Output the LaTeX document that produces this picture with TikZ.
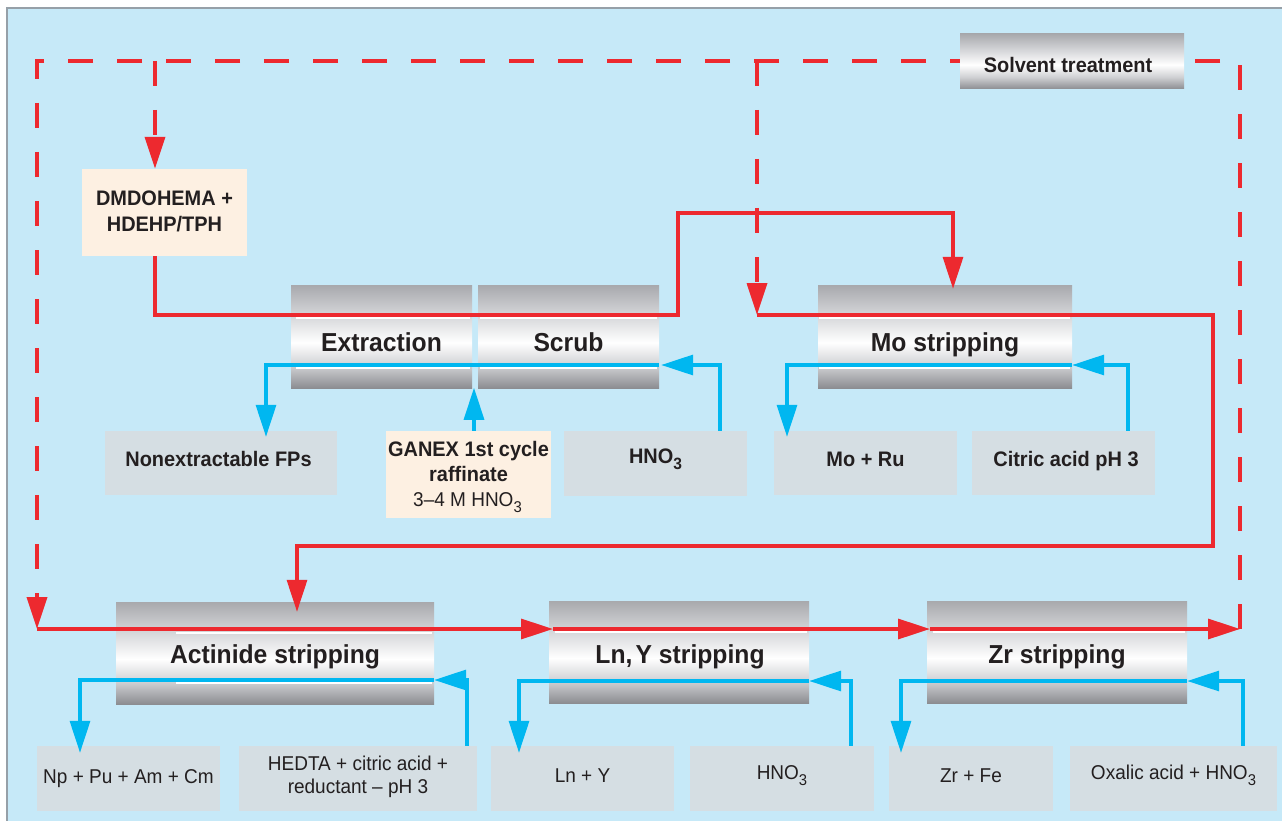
\documentclass[tikz,border=0pt]{standalone}
\usepackage{fontspec}
\setmainfont{Liberation Sans}[FakeStretch=0.95]
\usetikzlibrary{arrows.meta}
\definecolor{bgblue}{RGB}{198,233,248}
\definecolor{framegray}{RGB}{150,160,168}
\definecolor{feedgray}{RGB}{213,222,227}
\definecolor{cream}{RGB}{253,240,226}
\definecolor{flowred}{RGB}{237,41,47}
\definecolor{flowblue}{RGB}{0,183,240}
\definecolor{txt}{RGB}{35,31,32}
\definecolor{gT}{RGB}{168,169,173}
\definecolor{gLa}{RGB}{214,215,218}
\definecolor{gLb}{RGB}{208,209,212}
\definecolor{gB}{RGB}{140,141,145}
\pgfdeclareverticalshading{stageshade}{100bp}{color(0bp)=(gB); color(25bp)=(gB); color(36bp)=(gLb); color(47bp)=(white); color(60bp)=(gLa); color(75bp)=(gT); color(100bp)=(gT)}
\pgfdeclarelayer{frame}
\pgfdeclarelayer{under}
\pgfsetlayers{frame,under,main}
\newcommand{\subthree}{\raisebox{-0.33em}{\scalebox{0.78}{3}}}
\begin{document}
\begin{tikzpicture}[x=1pt,y=-1pt,
  stagebox/.style={shade, shading=stageshade, draw=none, inner sep=0pt, minimum height=103pt},
  feedbox/.style={fill=feedgray, draw=none, inner sep=0pt},
  freshbox/.style={fill=cream, draw=none, inner sep=0pt},
  stagetxt/.style={font=\fontsize{26}{30}\selectfont\bfseries, text=txt, anchor=base, inner sep=0pt},
  lbl/.style={font=\fontsize{21}{25}\selectfont\bfseries, text=txt, anchor=base, inner sep=0pt},
  reg/.style={font=\fontsize{20}{24}\selectfont, text=txt, anchor=base, inner sep=0pt},
  redflow/.style={draw=flowred, line width=3.2pt},
  blueflow/.style={draw=flowblue, line width=3.2pt},
  solventflow/.style={draw=flowred, line width=3.5pt, dash pattern=on 25pt off 24pt},
  flowhead/.style={-{Triangle[length=32pt,width=20pt]}},
  whiteline/.style={draw=white, line width=1.4pt}]
\useasboundingbox (0,0) rectangle (1282,821);
\begin{pgfonlayer}{frame}
  \fill[bgblue] (7,8) rectangle (1300,840);
  \draw[framegray, line width=1.5pt] (7,840) -- (7,8) -- (1300,8);
\end{pgfonlayer}

% ---- boxes
\node[stagebox, minimum width=224pt, minimum height=55pt] (solv) at (1072,61.5) {};
\node[freshbox, minimum width=165pt, minimum height=87pt] (dmd) at (164.5,212.5) {};
\node[stagebox, minimum width=181pt] (ext) at (381.5,336.5) {};
\node[stagebox, minimum width=181pt] (scrub) at (568.5,336.5) {};
\node[stagebox, minimum width=254pt] (mo) at (945,336.5) {};
\node[stagebox, minimum width=318pt, minimum height=102pt] (act) at (275,653) {};
\node[stagebox, minimum width=260pt, minimum height=102pt] (lny) at (679,652) {};
\node[stagebox, minimum width=260pt, minimum height=102pt] (zr) at (1057,652) {};
\node[feedbox, minimum width=232pt, minimum height=64pt] (non) at (221,463) {};
\node[freshbox, minimum width=165pt, minimum height=87pt] (gan) at (468.5,474.5) {};
\node[feedbox, minimum width=183pt, minimum height=65pt] (hnoA) at (655.5,463.5) {};
\node[feedbox, minimum width=183pt, minimum height=64pt] (moru) at (865.5,463) {};
\node[feedbox, minimum width=183pt, minimum height=64pt] (cit) at (1063.5,463) {};
\node[feedbox, minimum width=183pt, minimum height=65pt] (np) at (128.5,778.5) {};
\node[feedbox, minimum width=238pt, minimum height=65pt] (hed) at (358,778.5) {};
\node[feedbox, minimum width=183pt, minimum height=65pt] (lnyo) at (582.5,778.5) {};
\node[feedbox, minimum width=184pt, minimum height=65pt] (hnoB) at (782,778.5) {};
\node[feedbox, minimum width=164pt, minimum height=65pt] (zrfe) at (971,778.5) {};
\node[feedbox, minimum width=207pt, minimum height=65pt] (oxa) at (1173.5,778.5) {};

% ---- white rims of the stage boxes
\foreach \n/\u/\l/\s in {ext/33pt/83pt/5pt, scrub/33pt/83pt/2pt, mo/33pt/83pt/1pt, act/31pt/81pt/60pt, lny/31pt/81pt/6pt, zr/31pt/81pt/6pt}{
  \draw[whiteline] ([xshift=\s,yshift=-\u]\n.north west) -- ([xshift=-2pt,yshift=-\u]\n.north east);
  \draw[whiteline] ([xshift=\s,yshift=-\l]\n.north west) -- ([xshift=-2pt,yshift=-\l]\n.north east);
}

% ---- texts
\node[lbl] (solvT) at (1068,73) {Solvent treatment};
\node[lbl] (dmdTa) at (164.5,206) {DMDOHEMA +};
\node[lbl] (dmdTb) at (164.5,231) {HDEHP/TPH};
\node[stagetxt] (extT) at (381.5,351) {Extraction};
\node[stagetxt] (scrubT) at (568.5,351) {Scrub};
\node[stagetxt] (moT) at (945,351) {Mo stripping};
\node[stagetxt] (actT) at (275,663.5) {Actinide stripping};
\node[stagetxt] (lnyT) at (680,663.5) {Ln,\kern0.12em Y stripping};
\node[stagetxt] (zrT) at (1057,663.5) {Zr stripping};
\node[lbl] (nonT) at (218.5,466) {Nonextractable FPs};
\node[lbl] (ganTa) at (468.5,456) {GANEX 1st cycle};
\node[lbl] (ganTb) at (468.5,481) {raffinate};
\node[reg] (ganTc) at (467.5,506) {3–4 M HNO\subthree};
\node[lbl] (hnoAT) at (655.5,463) {HNO\subthree};
\node[lbl] (moruT) at (865.5,466) {Mo + Ru};
\node[lbl] (citT) at (1066,466) {Citric acid pH 3};
\node[reg] (npT) at (128.5,783) {Np + Pu + Am + Cm};
\node[reg] (hedTa) at (358,770) {HEDTA + citric acid +};
\node[reg] (hedTb) at (358,793) {reductant – pH 3};
\node[reg] (lnyoT) at (582.5,782) {Ln + Y};
\node[reg] (hnoBT) at (782,779) {HNO\subthree};
\node[reg] (zrfeT) at (971,782) {Zr + Fe};
\node[reg] (oxaT) at (1173.5,779) {Oxalic acid + HNO\subthree};

% ---- named free ends
\coordinate (moin) at (757,315);
\coordinate (actin) at (37,629);
\coordinate (lnyin) at (553,629);
\coordinate (zrin) at (930,629);
\coordinate (zrout) at (1240,629);
\coordinate (loopL) at (37,61);
\coordinate (loopR) at (1240,61);

% ---- solvent recycle (dashed), under the boxes
\begin{pgfonlayer}{under}
  \draw[solventflow, flowhead] (zrout) -- (loopR) -- (loopL) -- (actin);
  \draw[solventflow, flowhead] (loopL -| moin) -- (moin);
  \draw[solventflow, flowhead] ([xshift=-9.5pt]dmd.north |- loopL) -- ([xshift=-9.5pt]dmd.north);
\end{pgfonlayer}

% ---- organic flows (solid red)
\draw[redflow, flowhead] ([xshift=-9.5pt]dmd.south) |- (678,315) |- (953,213) -- ([xshift=8pt,yshift=-4pt]mo.north);
\draw[redflow, flowhead] (moin) -| (1213,546) -| ([xshift=22pt,yshift=-10pt]act.north);
\draw[redflow, flowhead] (actin) -- (lnyin);
\draw[redflow, flowhead] (lnyin) -- (zrin);
\draw[redflow, flowhead] (zrin) -- (zrout);

% ---- aqueous flows (solid blue)
\draw[blueflow, flowhead] ([xshift=64.5pt]hnoA.north) |- ([xshift=2pt,yshift=-28.5pt]scrub.east);
\draw[blueflow, flowhead] ([yshift=-28.5pt]scrub.east) -| ([xshift=45pt,yshift=-6pt]non.north);
\draw[blueflow, flowhead] ([xshift=5.5pt]gan.north) -- ++(0,-43);
\draw[blueflow, flowhead] ([xshift=64.5pt]cit.north) |- ([yshift=-28.5pt]mo.east);
\draw[blueflow, flowhead] ([yshift=-28.5pt]mo.east) -| ([xshift=-78.5pt,yshift=-6pt]moru.north);
\draw[blueflow, flowhead] ([xshift=109pt]hed.north) |- ([yshift=-27pt]act.east);
\draw[blueflow, flowhead] ([yshift=-27pt]act.east) -| ([xshift=-48.5pt,yshift=-7pt]np.north);
\draw[blueflow, flowhead] ([xshift=69pt]hnoB.north) |- ([yshift=-29pt]lny.east);
\draw[blueflow, flowhead] ([yshift=-29pt]lny.east) -| ([xshift=-63.5pt,yshift=-7pt]lnyo.north);
\draw[blueflow, flowhead] ([xshift=69.5pt]oxa.north) |- ([yshift=-29pt]zr.east);
\draw[blueflow, flowhead] ([yshift=-29pt]zr.east) -| ([xshift=-70pt,yshift=-7pt]zrfe.north);
\end{tikzpicture}
\end{document}
